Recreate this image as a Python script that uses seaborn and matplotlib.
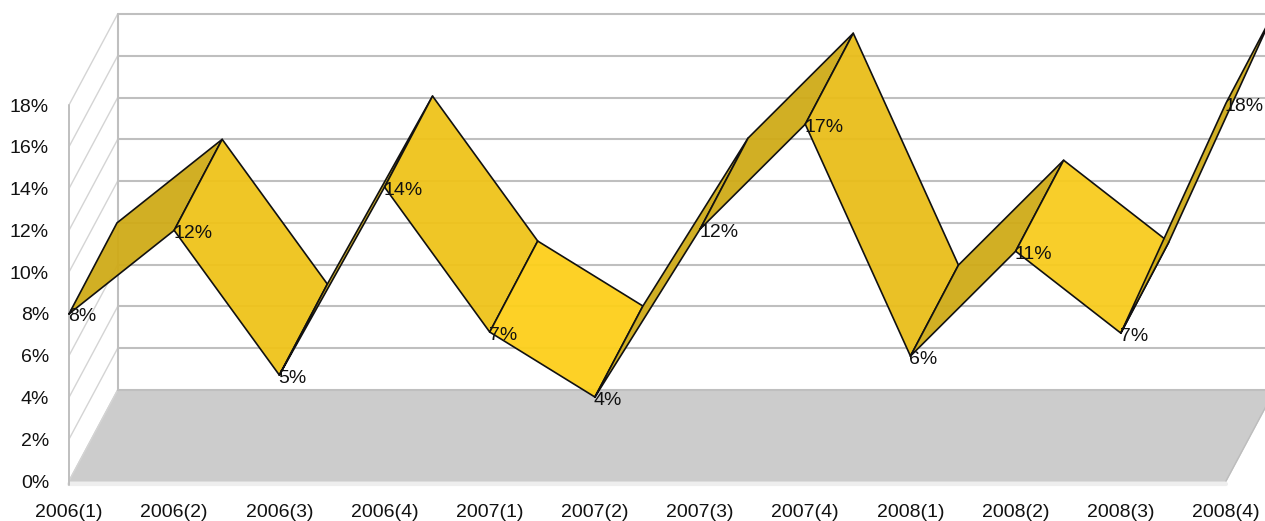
import matplotlib
matplotlib.use("Agg")
import matplotlib.pyplot as plt
import seaborn as sns
import pandas as pd

periods = ['2006(1)', '2006(2)', '2006(3)', '2006(4)', '2007(1)', '2007(2)',
           '2007(3)', '2007(4)', '2008(1)', '2008(2)', '2008(3)', '2008(4)']
values = [8.0, 12.0, 5.07, 14.07, 7.13, 4.02, 12.06, 17.08, 5.98, 11.0, 7.08, 18.09]
labels = ['8%', '12%', '5%', '14%', '7%', '4%', '12%', '17%', '6%', '11%', '7%', '18%']
yticks = [0, 2, 4, 6, 8, 10, 12, 14, 16, 18]

# segment shade: going up is dark, going down gets lighter the flatter it is
UP = '#cfaa16'
DOWN_SHADES = {3: '#fdcf18', 4: '#f8cb1c', 7: '#efc318', 11: '#e9bd18'}

W, H = 1265, 521
sns.set_style('white')
plt.rcParams['font.family'] = ['Liberation Sans', 'DejaVu Sans']

fig = plt.figure(figsize=(W / 100, H / 100), dpi=100)
ax = fig.add_axes([69 / W, 40 / H, 1157 / W, 376 / H])

# depth of the fake 3D box, in data units
dx = 48.7 / (1157 / 11)
dy = 91 / (376 / 18)
# the ribbon sits a touch left of the wall
rx = 48 / (1157 / 11)

n = len(periods)

# floor
ax.fill([0, n - 1, n - 1 + dx, dx], [0, 0, dy, dy], color='#cccccc', zorder=1)
ax.plot([0, n - 1], [-0.12, -0.12], color='#eeeeee', lw=3, zorder=1)
ax.plot([n - 1, n - 1 + dx], [0, dy], color='#bdbdbd', lw=1, zorder=1)

# walls and gridlines
for t in yticks:
    ax.plot([0, dx], [t, t + dy], color='#d4d4d4', lw=1, zorder=2)
    ax.plot([dx, n - 1 + dx], [t + dy, t + dy], color='#bfbfbf', lw=1.5, zorder=2)
ax.plot([0, 0], [-0.2, yticks[-1]], color='#bfbfbf', lw=1.4, zorder=2)
ax.plot([dx, dx], [dy, yticks[-1] + dy], color='#bfbfbf', lw=1.5, zorder=2)

# ribbon, left to right so later segments sit on top
for i in range(n - 1):
    y0, y1 = values[i], values[i + 1]
    drop = round(y0 - y1)
    face = UP if y1 > y0 else DOWN_SHADES[drop]
    xs = [i, i + 1, i + 1 + rx, i + rx, i]
    ys = [y0, y1, y1 + dy, y0 + dy, y0]
    z = 3 + i * 0.1
    ax.fill(xs, ys, color=face, alpha=0.94, lw=0, zorder=z)
    seg = pd.DataFrame({'x': xs, 'y': ys})
    sns.lineplot(data=seg, x='x', y='y', sort=False, estimator=None, color='#111111',
                 lw=1.2, ax=ax, zorder=z + 0.01)

for i, lab in enumerate(labels):
    ax.annotate(lab, (i, values[i]), xytext=(-1, -3), textcoords='offset pixels',
                ha='left', va='center', fontsize=14, color='#111111', zorder=10,
                annotation_clip=False)

for art in ax.lines + ax.patches + ax.collections:
    art.set_clip_on(False)

ax.set_xlim(0, n - 1)
ax.set_ylim(0, yticks[-1])
ax.set_xticks(range(n))
ax.set_xticklabels(periods)
ax.set_yticks(yticks)
ax.set_yticklabels([f'{t}%' for t in yticks])
ax.tick_params(axis='both', length=0, labelsize=14, labelcolor='#111111')
ax.tick_params(axis='y', pad=14.4)
ax.tick_params(axis='x', pad=16.5)
ax.set_xlabel('')
ax.set_ylabel('')
sns.despine(ax=ax, left=True, bottom=True)
ax.patch.set_alpha(0)

fig.savefig('out.png', dpi=100)
